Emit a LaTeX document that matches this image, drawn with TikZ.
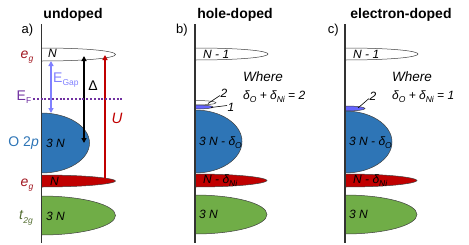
\documentclass[tikz,border=0pt]{standalone}
\usepackage{fontspec}
\setmainfont{Liberation Sans}
\usetikzlibrary{arrows.meta}
\definecolor{obl}{RGB}{46,117,182}
\definecolor{ered}{RGB}{192,0,0}
\definecolor{tgreen}{RGB}{112,173,71}
\definecolor{gaparrow}{RGB}{128,128,255}
\definecolor{fermi}{RGB}{112,48,160}
\definecolor{eglabel}{RGB}{160,20,30}
\definecolor{tlabel}{RGB}{84,110,50}
\definecolor{smallblue}{RGB}{100,100,255}
\newcommand\lobeshape[7]{\path[#1] (#2,#3) .. controls (#2+#6*#5,#3) and (#2+#5,{(#3+#4)/2-#7*(#4-#3)}) .. (#2+#5,{(#3+#4)/2}) .. controls (#2+#5,{(#3+#4)/2+#7*(#4-#3)}) and (#2+#6*#5,#4) .. (#2,#4) -- cycle;}
\newcommand\lsub[1]{\raisebox{-0.45ex}{\fontsize{8.5}{9}\selectfont #1}}
\begin{document}
\begin{tikzpicture}[x=1pt,y=-1pt,
  lbl/.style={font=\fontsize{12}{14}\selectfont\itshape, inner sep=0pt, anchor=west},
  titletext/.style={font=\fontsize{14}{16}\selectfont\bfseries, inner sep=0pt},
  panel/.style={font=\fontsize{13}{15}\selectfont, inner sep=0pt, anchor=east},
  side/.style={font=\fontsize{14}{16}\selectfont, inner sep=0pt},
  small/.style={font=\fontsize{12}{13}\selectfont\itshape, inner sep=0pt},
  axisline/.style={draw=black!80, line width=1.3pt},
  lobeline/.style={draw=black!75, line width=0.5pt},
  callout/.style={draw=black, line width=0.6pt},
  dbl/.style={{Triangle[length=5pt,width=5pt]}-{Triangle[length=5pt,width=5pt]}, line width=1.5pt}
]
\useasboundingbox (0,0) rectangle (469,244);
% ---------------- panel a
\lobeshape{fill=white,lobeline}{41.5}{48}{61}{74}{0.65}{0.25}
\lobeshape{fill=obl,lobeline}{41.5}{113}{173}{48}{0.5523}{0.276}
\lobeshape{fill=ered,lobeline}{41.5}{175}{187}{74}{0.65}{0.2}
\lobeshape{fill=tgreen,lobeline}{41.5}{196}{235}{74}{0.5523}{0.276}
\coordinate (aT) at (41.5,24); \coordinate (aB) at (41.5,243);
\draw[axisline] (aT) -- (aB);
\node[titletext] (ta) at (73,15) {undoped};
\node[panel] (pa) at (33.5,30) {a)};
\node[side, text=eglabel] (egA) at (27,57) {\textit{e}\lsub{\itshape g}};
\node[side, text=fermi] (ef) at (24,97) {E\lsub{F}};
\node[side, text=obl, anchor=east] (o2p) at (39,143) {O 2\textit{p}};
\node[side, text=eglabel] (egB) at (27,185) {\textit{e}\lsub{\itshape g}};
\node[side, text=tlabel] (t2g) at (26,218) {\textit{t}\lsub{\itshape 2g}};
\node[lbl] (nA1) at (48,53.5) {N};
\node[lbl] (nA2) at (46,143) {3 N};
\node[lbl] (nA3) at (50,181.5) {N};
\node[lbl] (nA4) at (46,216) {3 N};
% arrows
\coordinate (gapT) at (51,61); \coordinate (gapB) at (51,113);
\draw[dbl, gaparrow] (gapT) -- (gapB);
\coordinate (dT) at (84,56); \coordinate (dB) at (84,143);
\draw[dbl, black] (dT) -- (dB);
\coordinate (uT) at (105,55); \coordinate (uB) at (105,184);
\draw[dbl, ered] (uT) -- (uB);
\coordinate (efL) at (33,98.5); \coordinate (efR) at (123,98.5);
\draw[fermi, line width=2pt, dash pattern=on 2pt off 1.8pt] (efL) -- (efR);
\node[side, text=gaparrow, anchor=west] (egap) at (53,80) {E\lsub{Gap}};
\node[side] (delta) at (93,86) {Δ};
\node[side, text=ered, font=\fontsize{15}{16}\selectfont\itshape] (uu) at (117,118) {U};
% ---------------- panel b
\lobeshape{fill=white,lobeline}{195}{48}{60}{73}{0.65}{0.25}
\lobeshape{fill=white,lobeline}{195}{100.5}{105}{21}{0.65}{0.25}
\lobeshape{fill=smallblue,lobeline}{195}{105}{109}{18}{0.65}{0.25}
\lobeshape{fill=obl,lobeline}{195}{110}{173}{47}{0.5523}{0.276}
\lobeshape{fill=ered,lobeline}{195}{174}{187}{72}{0.65}{0.2}
\lobeshape{fill=tgreen,lobeline}{195}{195}{234}{72}{0.5523}{0.276}
\coordinate (bT) at (195,24); \coordinate (bB) at (195,243);
\draw[axisline] (bT) -- (bB);
\node[titletext] (tb) at (235,15) {hole-doped};
\node[panel] (pb) at (188,30) {b)};
\node[lbl] (nB1) at (203,54) {N - 1};
\node[lbl] (nB2) at (199,143) {3 N - δ\lsub{O}};
\node[lbl] (nB3) at (203,181) {N - δ\lsub{Ni}};
\node[lbl] (nB4) at (199,214) {3 N};
\node[lbl, font=\fontsize{13.5}{14}\selectfont\itshape] (whb) at (243,77) {Where};
\node[lbl] (eqb) at (243,97) {δ\lsub{O} + δ\lsub{Ni} = 2};
\node[small] (two) at (224,93) {2};
\node[small] (one) at (231,107) {1};
\coordinate (c2s) at (208,103.5); \coordinate (c2e) at (220,95.5);
\coordinate (c1s) at (211,107.5); \coordinate (c1e) at (227,105.5);
\draw[callout] (c2s) -- (c2e);
\draw[callout] (c1s) -- (c1e);
% ---------------- panel c
\lobeshape{fill=white,lobeline}{345}{48}{60}{73}{0.65}{0.25}
\lobeshape{fill=smallblue,lobeline}{345}{106}{111}{20}{0.65}{0.25}
\lobeshape{fill=obl,lobeline}{345}{111}{173}{47}{0.5523}{0.276}
\lobeshape{fill=ered,lobeline}{345}{174}{187}{72}{0.65}{0.2}
\lobeshape{fill=tgreen,lobeline}{345}{195}{234}{72}{0.5523}{0.276}
\coordinate (cT) at (345,24); \coordinate (cB) at (345,243);
\draw[axisline] (cT) -- (cB);
\node[titletext] (tc) at (401,15) {electron-doped};
\node[panel] (pc) at (339,30) {c)};
\node[lbl] (nC1) at (353,54) {N - 1};
\node[lbl] (nC2) at (349,143) {3 N - δ\lsub{O}};
\node[lbl] (nC3) at (353,181) {N - δ\lsub{Ni}};
\node[lbl] (nC4) at (349,214) {3 N};
\node[lbl, font=\fontsize{13.5}{14}\selectfont\itshape] (whc) at (392,77) {Where};
\node[lbl] (eqc) at (392,97) {δ\lsub{O} + δ\lsub{Ni} = 1};
\node[small] (twoc) at (373,96) {2};
\coordinate (c3s) at (358,108); \coordinate (c3e) at (369,98.5);
\draw[callout] (c3s) -- (c3e);
\end{tikzpicture}
\end{document}
